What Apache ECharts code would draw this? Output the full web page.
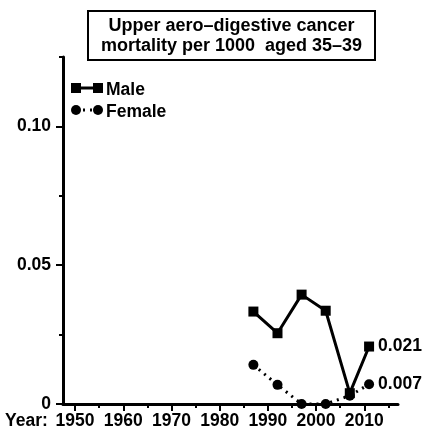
<!DOCTYPE html>
<html>
<head>
<meta charset="utf-8">
<script src="https://cdn.jsdelivr.net/npm/echarts@6/dist/echarts.min.js"></script>
<style>
  html, body { margin: 0; padding: 0; background: #fff; }
  #chart { width: 422px; height: 436px; }
</style>
</head>
<body>
<div id="chart"></div>
<script>
var years = [1987, 1992, 1997, 2002, 2007, 2011];
var maleValues = [0.0333, 0.0255, 0.0394, 0.0336, 0.0039, 0.0207];
var femaleValues = [0.0141, 0.0069, 0, 0, 0.003, 0.0071];
var endLabels = ['0.021', '0.007'];
var xMajorTicks = [1950, 1960, 1970, 1980, 1990, 2000, 2010];
var xMinorTicks = [1950, 1955, 1960, 1965, 1970, 1975, 1980, 1985, 1990, 1995, 2000, 2005, 2010, 2015];
var yMajorTicks = [0, 0.05, 0.10];
var yMinorTicks = [0, 0.025, 0.05, 0.075, 0.10, 0.125];

var FONT = 'Liberation Sans';
var FS = 17.5;
var chart = echarts.init(document.getElementById('chart'));

function pairs(vals) {
    return years.map(function (y, i) { return [y, vals[i]]; });
}

function yFmt(v) {
    return v === 0 ? '0' : v.toFixed(2);
}

var txt = { fontFamily: FONT, fontWeight: 'bold', fontSize: FS, color: '#000' };
var gfont = 'bold ' + FS + 'px "' + FONT + '"';

var option = {
    animation: false,
    backgroundColor: '#fff',
    grid: { left: 63, right: 24, top: 57, bottom: 32 },
    xAxis: [{
        type: 'value', min: 1947.5, max: 2017,
        axisLine: { lineStyle: { color: '#000', width: 3 } },
        axisTick: { customValues: xMinorTicks, length: 4, lineStyle: { color: '#000', width: 2 } },
        axisLabel: { show: false },
        splitLine: { show: false }
    }, {
        type: 'value', min: 1947.5, max: 2017, position: 'bottom',
        axisLine: { show: false },
        axisTick: { customValues: xMajorTicks, length: 7, lineStyle: { color: '#000', width: 2 } },
        axisLabel: Object.assign({ customValues: xMajorTicks, margin: 8,
            formatter: function (v) { return String(v); } }, txt),
        splitLine: { show: false }
    }],
    yAxis: [{
        type: 'value', min: 0, max: 0.125,
        axisLine: { show: true, lineStyle: { color: '#000', width: 3 } },
        axisTick: { show: true, customValues: yMinorTicks, length: 4, lineStyle: { color: '#000', width: 2 } },
        axisLabel: { show: false },
        splitLine: { show: false }
    }, {
        type: 'value', min: 0, max: 0.125, position: 'left',
        axisLine: { show: false },
        axisTick: { show: true, customValues: yMajorTicks, length: 7, lineStyle: { color: '#000', width: 2 } },
        axisLabel: Object.assign({ customValues: yMajorTicks, margin: 12, formatter: yFmt }, txt),
        splitLine: { show: false }
    }],
    series: [{
        name: 'Male', type: 'line', data: pairs(maleValues),
        symbol: 'rect', symbolSize: 10, showAllSymbol: true,
        lineStyle: { color: '#000', width: 3 },
        itemStyle: { color: '#000' },
        endLabel: Object.assign({ show: true, formatter: endLabels[0], offset: [1, 0] }, txt)
    }, {
        name: 'Female', type: 'line', data: pairs(femaleValues),
        symbol: 'circle', symbolSize: 10, showAllSymbol: true,
        lineStyle: { color: '#000', width: 3, type: [2, 5] },
        itemStyle: { color: '#000' },
        endLabel: Object.assign({ show: true, formatter: endLabels[1], offset: [1, 0] }, txt)
    }],
    graphic: [
        { type: 'rect', shape: { x: 88, y: 11, width: 287, height: 49 },
          style: { fill: '#fff', stroke: '#000', lineWidth: 2 } },
        { type: 'text', x: 231.5, y: 36,
          style: { text: 'Upper aero\u2013digestive cancer\nmortality per 1000  aged 35\u201339',
              align: 'center', verticalAlign: 'middle', lineHeight: 20,
              font: 'bold 18px "' + FONT + '"', fill: '#000' } },
        { type: 'text', x: 5, y: 421,
          style: { text: 'Year:', verticalAlign: 'middle', font: gfont, fill: '#000' } },
        // legend
        { type: 'line', shape: { x1: 76, y1: 88, x2: 98, y2: 88 }, style: { stroke: '#000', lineWidth: 3 } },
        { type: 'rect', shape: { x: 71, y: 83, width: 10, height: 10 }, style: { fill: '#000' } },
        { type: 'rect', shape: { x: 93, y: 83, width: 10, height: 10 }, style: { fill: '#000' } },
        { type: 'text', x: 106, y: 90, style: { text: 'Male', verticalAlign: 'middle', font: gfont, fill: '#000' } },
        { type: 'line', shape: { x1: 76, y1: 110, x2: 98, y2: 110 }, style: { stroke: '#000', lineWidth: 3, lineDash: [2, 5] } },
        { type: 'circle', shape: { cx: 76, cy: 110, r: 5 }, style: { fill: '#000' } },
        { type: 'circle', shape: { cx: 98, cy: 110, r: 5 }, style: { fill: '#000' } },
        { type: 'text', x: 106, y: 112, style: { text: 'Female', verticalAlign: 'middle', font: gfont, fill: '#000' } }
    ]
};

chart.setOption(option);
</script>
</body>
</html>
